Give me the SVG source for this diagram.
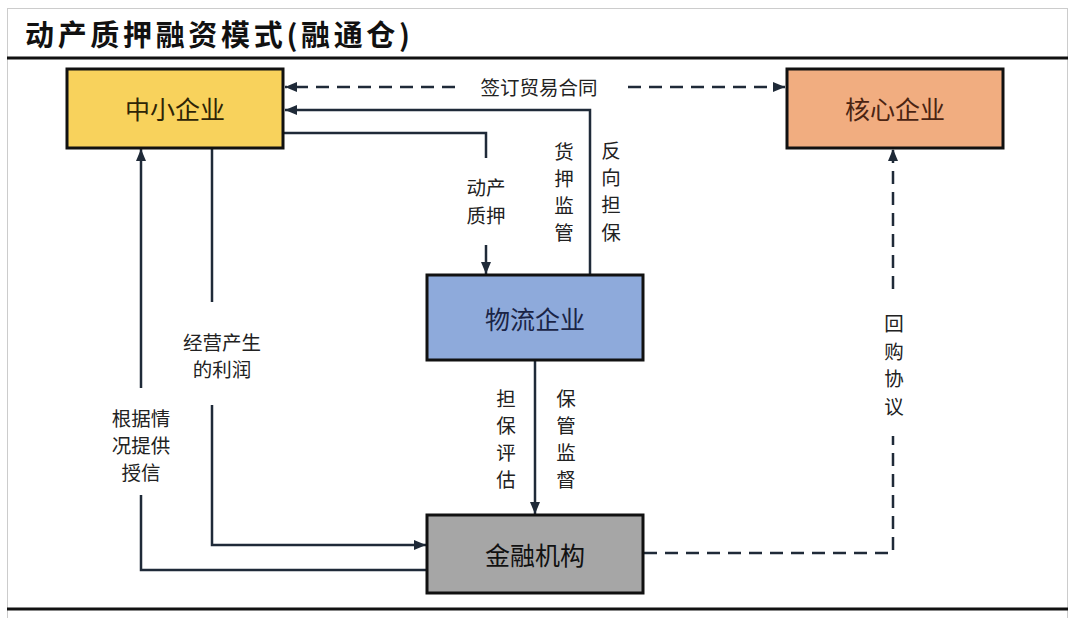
<svg xmlns="http://www.w3.org/2000/svg" width="1076" height="618" viewBox="0 0 1076 618">
<style>
.box{stroke:#111;stroke-width:3}
.bt{font-family:"Noto Sans CJK SC","Noto Sans",sans-serif;font-size:25px;text-anchor:middle;dominant-baseline:central}
.lb{font-family:"Noto Sans CJK SC","Noto Sans",sans-serif;font-size:19.5px;fill:#222;text-anchor:middle;dominant-baseline:central}
.ln{fill:none;stroke:#1f2a38;stroke-width:2.5}
.dash{stroke-dasharray:13 8}
</style>
<defs>
<marker id="ah" viewBox="0 0 12 10" refX="12" refY="5" markerWidth="12" markerHeight="10" markerUnits="userSpaceOnUse" orient="auto">
<path d="M0,0 L12,5 L0,10 Z" fill="#1f2a38"/>
</marker>
</defs>
<rect x="0" y="0" width="1076" height="618" fill="#fff"/>
<rect x="7.5" y="8.5" width="1060" height="640" fill="none" stroke="#ccc" stroke-width="1"/>
<g id="title">
<text x="25" y="46" font-family="'Noto Sans CJK SC','Noto Sans',sans-serif" font-size="29" font-weight="bold" fill="#111" textLength="385" lengthAdjust="spacing">动产质押融资模式(融通仓)</text>
<line x1="7" y1="58" x2="1068" y2="58" stroke="#111" stroke-width="3"/>
<line x1="7" y1="609" x2="1068" y2="609" stroke="#111" stroke-width="3"/>
</g>
<g id="connectors">
<path class="ln dash" d="M455,87 H285" marker-end="url(#ah)"/>
<path class="ln dash" d="M628,87 H785" marker-end="url(#ah)"/>
<path class="ln" d="M590,275 V110 H285" marker-end="url(#ah)"/>
<path class="ln" d="M284,133 H486 V158"/>
<path class="ln" d="M486,245 V274" marker-end="url(#ah)"/>
<path class="ln" d="M535,361 V514" marker-end="url(#ah)"/>
<path class="ln" d="M212,149 V302"/>
<path class="ln" d="M212,405 V545 H426" marker-end="url(#ah)"/>
<path class="ln" d="M427,570 H141 V495"/>
<path class="ln" d="M141,388 V149" marker-end="url(#ah)"/>
<path class="ln dash" d="M644,553 H893 V436"/>
<path class="ln dash" d="M893,289 V149" marker-end="url(#ah)"/>
<text class="lb" x="539" y="86">签订贸易合同</text>
<text class="lb" x="564" y="150">货</text><text class="lb" x="564" y="177">押</text><text class="lb" x="564" y="204">监</text><text class="lb" x="564" y="231">管</text>
<text class="lb" x="611" y="149">反</text><text class="lb" x="611" y="176">向</text><text class="lb" x="611" y="203">担</text><text class="lb" x="611" y="231">保</text>
<text class="lb" x="486" y="186">动产</text><text class="lb" x="486" y="214">质押</text>
<text class="lb" x="506" y="397">担</text><text class="lb" x="506" y="424">保</text><text class="lb" x="506" y="451">评</text><text class="lb" x="506" y="478">估</text>
<text class="lb" x="566" y="397">保</text><text class="lb" x="566" y="424">管</text><text class="lb" x="566" y="451">监</text><text class="lb" x="566" y="478">督</text>
<text class="lb" x="222" y="341">经营产生</text><text class="lb" x="222" y="368">的利润</text>
<text class="lb" x="141" y="417">根据情</text><text class="lb" x="141" y="444">况提供</text><text class="lb" x="141" y="471">授信</text>
<text class="lb" x="894" y="322">回</text><text class="lb" x="894" y="350">购</text><text class="lb" x="894" y="377">协</text><text class="lb" x="894" y="405">议</text>
</g>
<g id="n-sme">
<rect class="box" x="67" y="69" width="216" height="79" fill="#f8d25c"/>
<text class="bt" x="175" y="108" fill="#2e2406">中小企业</text>
</g>
<g id="n-core">
<rect class="box" x="787" y="69" width="216" height="79" fill="#f1ad80"/>
<text class="bt" x="895" y="108" fill="#4a2412">核心企业</text>
</g>
<g id="n-logistics">
<rect class="box" x="427" y="275" width="216" height="85" fill="#8eaadb"/>
<text class="bt" x="535" y="318" fill="#1a2446">物流企业</text>
</g>
<g id="n-finance">
<rect class="box" x="427" y="515" width="216" height="78" fill="#a6a6a6"/>
<text class="bt" x="535" y="554" fill="#111">金融机构</text>
</g>
</svg>
